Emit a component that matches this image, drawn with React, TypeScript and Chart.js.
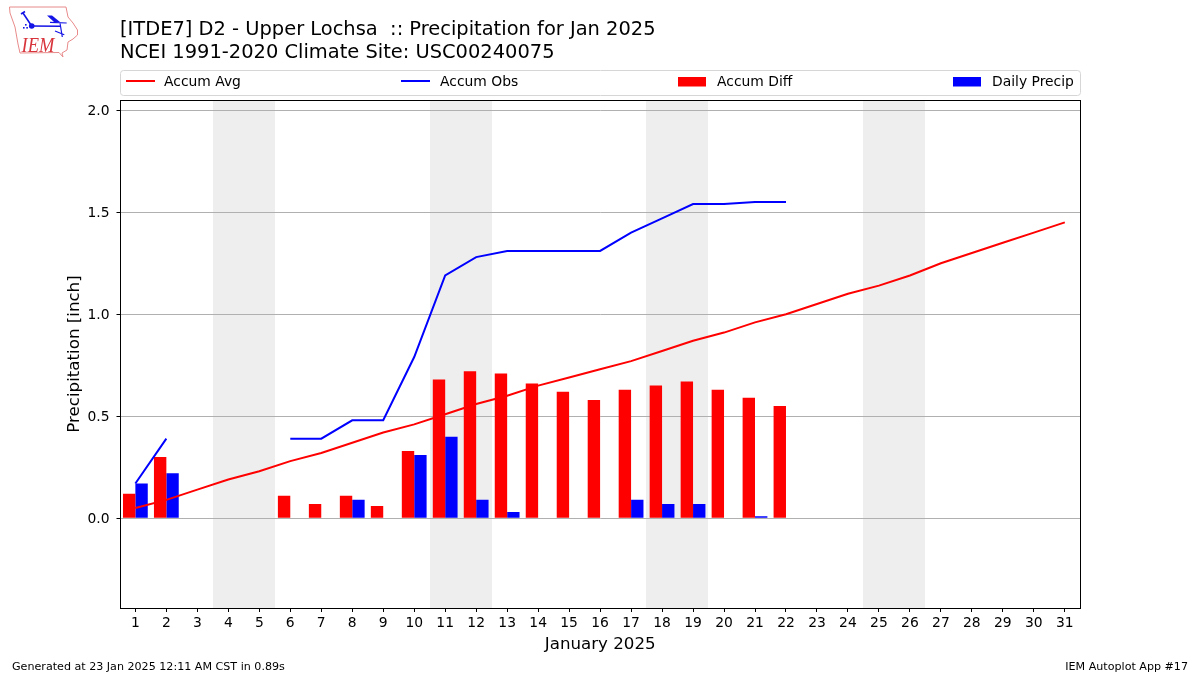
import React, { useEffect, useRef } from "react";
import { Chart, registerables } from "chart.js";

Chart.register(...registerables);

const days = [1,2,3,4,5,6,7,8,9,10,11,12,13,14,15,16,17,18,19,20,21,22,23,24,25,26,27,28,29,30,31];
const accumAvg = [0.05,0.09,0.14,0.19,0.23,0.28,0.32,0.37,0.42,0.46,0.51,0.56,0.60,0.65,0.69,0.73,0.77,0.82,0.87,0.91,0.96,1.00,1.05,1.10,1.14,1.19,1.25,1.30,1.35,1.40,1.45];
const accumObs = [0.17,0.39,null,null,null,0.39,0.39,0.48,0.48,0.79,1.19,1.28,1.31,1.31,1.31,1.31,1.40,1.47,1.54,1.54,1.55,1.55,null,null,null,null,null,null,null,null,null];
const accumDiff = [0.12,0.30,null,null,null,0.11,0.07,0.11,0.06,0.33,0.68,0.72,0.71,0.66,0.62,0.58,0.63,0.65,0.67,0.63,0.59,0.55,null,null,null,null,null,null,null,null,null];
const dailyPrecip = [0.17,0.22,0,0,0,0,0,0.09,0,0.31,0.40,0.09,0.03,0,0,0,0.09,0.07,0.07,0,0.01,0,null,null,null,null,null,null,null,null,null];
const yTicks = [0,0.5,1.0,1.5,2.0];
const weekendBands = [[3.5,5.5],[10.5,12.5],[17.5,19.5],[24.5,26.5]];
const titleLines = ["[ITDE7] D2 - Upper Lochsa  :: Precipitation for Jan 2025","NCEI 1991-2020 Climate Site: USC00240075"];
const footerLeft = "Generated at 23 Jan 2025 12:11 AM CST in 0.89s";
const footerRight = "IEM Autoplot App #17";
const FONT = '"DejaVu Sans"';

const bandsPlugin = {
  id: "bands",
  beforeDatasetsDraw(chart: any) {
    const { ctx, chartArea: a, scales } = chart;
    ctx.save();
    ctx.fillStyle = "#eeeeee";
    for (const [s, e] of weekendBands) {
      const x0 = Math.floor(scales.x.getPixelForValue(s) + 0.4);
      const x1 = Math.floor(scales.x.getPixelForValue(e) + 0.4);
      ctx.fillRect(x0, a.top, x1 - x0, a.bottom - a.top);
    }
    // grid redrawn above the bands so that bars still cover it
    ctx.strokeStyle = "#b0b0b0";
    ctx.lineWidth = 1;
    for (const v of yTicks) {
      const y = Math.round(scales.y.getPixelForValue(v)) + 0.5;
      ctx.beginPath();
      ctx.moveTo(a.left, y);
      ctx.lineTo(a.right, y);
      ctx.stroke();
    }
    ctx.restore();
  },
};

const decorPlugin = {
  id: "decor",
  afterDraw(chart: any) {
    const { ctx } = chart;
    ctx.save();
    // axes frame
    ctx.strokeStyle = "#000";
    ctx.lineWidth = 1;
    ctx.strokeRect(120.5, 100.5, 960, 508);

    // title
    ctx.fillStyle = "#000";
    ctx.textAlign = "left";
    ctx.textBaseline = "alphabetic";
    ctx.font = `19.45px ${FONT}`;
    ctx.fillText(titleLines[0], 120, 35);
    ctx.fillText(titleLines[1], 120, 57.5);

    // legend
    ctx.beginPath();
    ctx.roundRect(120.5, 70.5, 960, 25, 3);
    ctx.fillStyle = "#fff";
    ctx.fill();
    ctx.strokeStyle = "#d6d6d6";
    ctx.stroke();
    const entries = chart.data.datasets;
    const legendX = [126, 401, 678, 953];
    const legendTextX = [164, 440, 717, 992];
    ctx.font = `13.89px ${FONT}`;
    entries.forEach((d: any, i: number) => {
      const x = legendX[i];
      if (d.type === "line") {
        ctx.strokeStyle = d.borderColor;
        ctx.lineWidth = 2;
        ctx.beginPath();
        ctx.moveTo(x, 81);
        ctx.lineTo(x + 29, 81);
        ctx.stroke();
      } else {
        ctx.fillStyle = d.backgroundColor;
        ctx.fillRect(x, 77, 28, 9.5);
      }
      ctx.fillStyle = "#000";
      ctx.fillText(d.label, legendTextX[i], 86);
    });

    // footer
    ctx.font = `11.11px ${FONT}`;
    ctx.fillStyle = "#000";
    ctx.fillText(footerLeft, 12, 670);
    ctx.textAlign = "right";
    ctx.fillText(footerRight, 1188, 670);

    // logo: state outline
    ctx.strokeStyle = "#e88a8a";
    ctx.lineWidth = 1;
    ctx.lineJoin = "round";
    ctx.beginPath();
    ctx.moveTo(9.5, 7);
    ctx.lineTo(66, 7);
    ctx.lineTo(67, 12);
    ctx.lineTo(68, 17);
    ctx.lineTo(73, 23);
    ctx.lineTo(77.5, 30);
    ctx.lineTo(77.5, 35);
    ctx.lineTo(73, 39);
    ctx.lineTo(68, 42);
    ctx.lineTo(67, 50);
    ctx.lineTo(62, 53);
    ctx.lineTo(63, 57);
    ctx.lineTo(59, 52.5);
    ctx.lineTo(20, 53);
    ctx.lineTo(18, 44);
    ctx.lineTo(15, 27);
    ctx.lineTo(10, 13);
    ctx.closePath();
    ctx.stroke();
    // logo: instrument glyph
    ctx.strokeStyle = "#1414e6";
    ctx.fillStyle = "#1414e6";
    ctx.lineWidth = 1.6;
    ctx.beginPath();
    ctx.moveTo(31, 26);
    ctx.lineTo(60, 26.3);
    ctx.moveTo(31, 25);
    ctx.lineTo(23, 13);
    ctx.moveTo(21, 14);
    ctx.lineTo(25, 11.5);
    ctx.stroke();
    ctx.lineWidth = 1.2;
    ctx.beginPath();
    ctx.moveTo(50, 22.3);
    ctx.lineTo(66.7, 23);
    ctx.moveTo(60, 23);
    ctx.lineTo(62.3, 37);
    ctx.moveTo(55, 31);
    ctx.lineTo(64.3, 34.7);
    ctx.stroke();
    ctx.beginPath();
    ctx.arc(31.7, 26, 2.8, 0, Math.PI * 2);
    ctx.fill();
    ctx.beginPath();
    ctx.moveTo(47, 15.5);
    ctx.lineTo(52, 15.5);
    ctx.lineTo(60, 22);
    ctx.lineTo(54, 22);
    ctx.closePath();
    ctx.fill();
    ctx.fillRect(25, 24, 1.6, 1.6);
    ctx.fillRect(23, 27, 1.6, 1.6);
    ctx.fillRect(26.3, 27, 1.6, 1.6);
    // logo: text
    ctx.fillStyle = "#d8343c";
    ctx.textAlign = "left";
    ctx.font = 'italic 22px "Liberation Serif"';
    ctx.translate(21.5, 52);
    ctx.scale(0.84, 1);
    ctx.fillText("IEM", 0, 0);
    ctx.restore();
  },
};

export default function App() {
  const ref = useRef<HTMLCanvasElement>(null);
  useEffect(() => {
    const chart = new Chart(ref.current as any, {
      data: {
        labels: days,
        datasets: [
          { type: "line", label: "Accum Avg", data: accumAvg, borderColor: "#ff0000", borderWidth: 2, pointRadius: 0, order: 0, spanGaps: false, tension: 0 },
          { type: "line", label: "Accum Obs", data: accumObs, borderColor: "#0000ff", borderWidth: 2, pointRadius: 0, order: 0, spanGaps: false, tension: 0 },
          { type: "bar", label: "Accum Diff", data: accumDiff, backgroundColor: "#ff0000", borderWidth: 0, order: 1, barPercentage: 1, categoryPercentage: 0.8 },
          { type: "bar", label: "Daily Precip", data: dailyPrecip, backgroundColor: "#0000ff", borderWidth: 0, order: 1, barPercentage: 1, categoryPercentage: 0.8 },
        ],
      } as any,
      options: {
        animation: false,
        responsive: false,
        layout: { padding: { top: 100, right: 120, left: 0, bottom: 0 } },
        plugins: { legend: { display: false }, title: { display: false }, tooltip: { enabled: false } },
        scales: {
          x: {
            type: "linear",
            offset: false,
            min: 0.52,
            max: 31.49,
            afterBuildTicks: (s: any) => { s.ticks = days.map((value) => ({ value })); },
            afterFit: (s: any) => { s.height = 67; },
            grid: { display: true, offset: false, color: "rgba(0,0,0,0)", tickColor: "#000", tickLength: 4, tickWidth: 1, drawOnChartArea: false },
            border: { display: false },
            ticks: { color: "#000", font: { family: FONT, size: 13.89 }, autoSkip: false, maxRotation: 0, padding: 3, callback: (v: any) => String(v) },
            title: { display: true, text: "January 2025", color: "#000", font: { family: FONT, size: 16.67 }, padding: { top: 2, bottom: 20 } },
          },
          y: {
            type: "linear",
            min: -0.44,
            max: 2.05,
            afterBuildTicks: (s: any) => { s.ticks = yTicks.map((value) => ({ value })); },
            afterFit: (s: any) => { s.width = 120.5; },
            grid: { display: true, color: "rgba(0,0,0,0)", tickColor: "#000", tickLength: 4, tickWidth: 1, drawOnChartArea: false },
            border: { display: false },
            ticks: { color: "#000", font: { family: FONT, size: 13.89 }, padding: 7, labelOffset: 1, callback: (v: any) => Number(v).toFixed(1) },
            title: { display: true, text: "Precipitation [inch]", color: "#000", font: { family: FONT, size: 16.67 }, padding: { top: 65, bottom: 0 } },
          },
        },
      } as any,
      plugins: [bandsPlugin, decorPlugin],
    } as any);
    return () => chart.destroy();
  }, []);
  return (
    <div style={{ position: "absolute", left: 0, top: 0, width: 1200, height: 675, background: "#fff" }}>
      <canvas ref={ref} width={1200} height={675} style={{ display: "block" }} />
    </div>
  );
}
